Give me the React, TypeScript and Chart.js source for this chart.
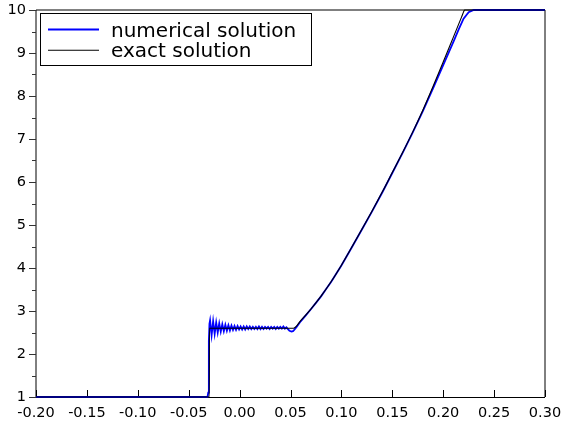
import React, { useEffect, useRef } from 'react';
import { Chart, registerables } from 'chart.js';

Chart.register(...registerables);

const seriesLabels = ['numerical solution', 'exact solution'];

const numericalX = [
  -0.2, -0.0315, -0.0308, -0.0302, -0.0296,
  -0.029, -0.0275, -0.026, -0.0245, -0.023, -0.0215, -0.02, -0.0185, -0.017, -0.0155,
  -0.014, -0.0125, -0.011, -0.0095, -0.008, -0.0065, -0.005, -0.0035, -0.002, -0.0005,
  0.001, 0.0025, 0.004, 0.0055, 0.007, 0.0085, 0.01, 0.0115, 0.013, 0.0145,
  0.016, 0.0175, 0.019, 0.0205, 0.022, 0.0235, 0.025, 0.0265, 0.028, 0.0295,
  0.031, 0.0325, 0.034, 0.0355, 0.037, 0.0385, 0.04, 0.0415, 0.043, 0.0445,
  0.046, 0.0475, 0.049, 0.051, 0.0525, 0.054, 0.056, 0.06,
  0.065, 0.07, 0.075, 0.08, 0.085, 0.09, 0.1, 0.11, 0.12, 0.13, 0.14, 0.15, 0.16, 0.17, 0.18, 0.19, 0.2,
  0.21, 0.215, 0.22, 0.225, 0.23, 0.3,
];
const numericalY = [
  1, 1, 1.1, 2.3, 2.7,
  2.78, 2.44, 2.76, 2.47, 2.73, 2.5, 2.71, 2.52, 2.69, 2.53,
  2.68, 2.54, 2.67, 2.55, 2.66, 2.56, 2.65, 2.56, 2.65, 2.57,
  2.64, 2.57, 2.64, 2.57, 2.64, 2.58, 2.64, 2.58, 2.63, 2.58,
  2.63, 2.58, 2.64, 2.58, 2.63, 2.58, 2.63, 2.59, 2.63, 2.58,
  2.63, 2.59, 2.63, 2.58, 2.63, 2.59, 2.63, 2.59, 2.64, 2.59,
  2.62, 2.58, 2.54, 2.52, 2.53, 2.57, 2.63, 2.76,
  2.9, 3.04, 3.19, 3.34, 3.51, 3.68, 4.06, 4.47, 4.89, 5.31, 5.75, 6.21, 6.67, 7.15, 7.65, 8.18, 8.72,
  9.26, 9.54, 9.8, 9.95, 10, 10,
];

const exactX = [
  -0.2, -0.0298, -0.0297, 0.053, 0.06, 0.07, 0.08, 0.09, 0.1, 0.11, 0.12, 0.13, 0.14,
  0.15, 0.16, 0.17, 0.18, 0.19, 0.2, 0.21, 0.218, 0.2205, 0.221, 0.3,
];
const exactY = [
  1, 1, 2.6, 2.6, 2.775, 3.045, 3.345, 3.685, 4.065, 4.475, 4.895, 5.32, 5.76,
  6.22, 6.68, 7.16, 7.67, 8.22, 8.79, 9.37, 9.835, 9.98, 10, 10,
];

const xTickValues = [-0.2, -0.15, -0.1, -0.05, 0, 0.05, 0.1, 0.15, 0.2, 0.25, 0.3];
const yTickValues = [1, 2, 3, 4, 5, 6, 7, 8, 9, 10];
const yMinorTickValues = [1.5, 2.5, 3.5, 4.5, 5.5, 6.5, 7.5, 8.5, 9.5];

const FONT = 'DejaVu Sans';

const framePlugin = {
  id: 'frameAndTicks',
  beforeDatasetsDraw(chart: any) {
    const { ctx, chartArea: a, scales } = chart;
    const xs = scales.x;
    const ys = scales.y;
    ctx.save();
    ctx.lineWidth = 1;
    ctx.strokeStyle = '#000';
    ctx.beginPath();
    ctx.moveTo(a.left, a.top);
    ctx.lineTo(a.right, a.top);
    ctx.lineTo(a.right, a.bottom);
    ctx.moveTo(a.left, a.top);
    ctx.lineTo(a.left, a.bottom);
    ctx.stroke();
    ctx.beginPath();
    ctx.moveTo(a.left, a.bottom + 0.5);
    ctx.lineTo(a.right, a.bottom + 0.5);
    ctx.stroke();
    ctx.strokeStyle = '#333';
    ctx.beginPath();
    yTickValues.forEach((v) => {
      const y = Math.round(ys.getPixelForValue(v)) + 0.5;
      ctx.moveTo(a.left - 7, y);
      ctx.lineTo(a.left, y);
    });
    yMinorTickValues.forEach((v) => {
      const y = Math.round(ys.getPixelForValue(v)) + 0.5;
      ctx.moveTo(a.left - 4, y);
      ctx.lineTo(a.left, y);
    });
    ctx.stroke();
    ctx.strokeStyle = '#000';
    ctx.beginPath();
    xTickValues.forEach((v) => {
      const x = Math.round(xs.getPixelForValue(v)) + 0.5;
      ctx.moveTo(x, a.bottom);
      ctx.lineTo(x, a.bottom - 7);
    });
    ctx.stroke();
    ctx.restore();
  },
  afterDraw(chart: any) {
    const { ctx, chartArea: a } = chart;
    const ds = chart.data.datasets;
    const items = seriesLabels.map((lab) => ds.find((d: any) => d.label === lab));
    ctx.save();
    const bx = a.left + 4.5;
    const by = a.top + 3.5;
    const bw = 271;
    const bh = 52;
    ctx.fillStyle = '#fff';
    ctx.fillRect(bx, by, bw, bh);
    ctx.strokeStyle = '#000';
    ctx.lineWidth = 1;
    ctx.strokeRect(bx, by, bw, bh);
    ctx.font = `20px "${FONT}"`;
    ctx.textBaseline = 'alphabetic';
    ctx.textAlign = 'left';
    items.forEach((d: any, i: number) => {
      if (!d) return;
      const ly = by + 16 + i * 20.7;
      ctx.strokeStyle = d.borderColor;
      ctx.lineWidth = d.borderWidth;
      ctx.beginPath();
      ctx.moveTo(a.left + 12, ly);
      ctx.lineTo(a.left + 63, ly);
      ctx.stroke();
      ctx.fillStyle = '#000';
      ctx.fillText(d.label, a.left + 75, ly + 7);
    });
    ctx.restore();
  },
};

export default function App() {
  const ref = useRef<HTMLCanvasElement | null>(null);
  useEffect(() => {
    document.body.style.margin = '0';
    const canvas = ref.current;
    if (!canvas) return;
    const toPts = (xs: number[], ys: number[]) => xs.map((x, i) => ({ x, y: ys[i] }));
    const chart = new Chart(canvas, {
      type: 'line',
      data: {
        datasets: [
          {
            label: seriesLabels[1],
            data: toPts(exactX, exactY),
            borderColor: '#000000',
            borderWidth: 1.1,
            pointRadius: 0,
            cubicInterpolationMode: 'monotone',
            fill: false,
          },
          {
            label: seriesLabels[0],
            data: toPts(numericalX, numericalY),
            borderColor: '#0000ff',
            borderWidth: 1.8,
            pointRadius: 0,
            tension: 0,
            fill: false,
          },
        ],
      },
      options: {
        responsive: false,
        animation: false,
        clip: false as any,
        layout: { padding: { left: 0, right: 20, top: 10, bottom: 0 } },
        plugins: { legend: { display: false }, tooltip: { enabled: false } },
        scales: {
          x: {
            type: 'linear',
            min: -0.2,
            max: 0.3,
            grid: { display: false, drawTicks: false },
            border: { display: false },
            afterBuildTicks: (s: any) => {
              s.ticks = xTickValues.map((v) => ({ value: v }));
            },
            afterFit: (s: any) => {
              s.height = 29;
              s.paddingLeft = 0;
              s.paddingRight = 0;
            },
            ticks: {
              autoSkip: false,
              maxRotation: 0,
              padding: 8,
              color: '#000',
              font: { family: FONT, size: 14.5 },
              callback: (v: any) => (Math.abs(Number(v)) < 1e-9 ? '0.00' : Number(v).toFixed(2)),
            },
          },
          y: {
            type: 'linear',
            min: 1,
            max: 10,
            grid: { display: false, drawTicks: false },
            border: { display: false },
            afterBuildTicks: (s: any) => {
              s.ticks = yTickValues.map((v) => ({ value: v }));
            },
            afterFit: (s: any) => {
              s.width = 36;
              s.paddingTop = 0;
              s.paddingBottom = 0;
            },
            ticks: {
              autoSkip: false,
              padding: 10,
              color: '#000',
              font: { family: FONT, size: 14.5 },
              callback: (v: any) => String(v),
            },
          },
        },
      },
      plugins: [framePlugin],
    });
    return () => chart.destroy();
  }, []);
  return (
    <canvas
      ref={ref}
      width={565}
      height={426}
      style={{ display: 'block', width: 565, height: 426 }}
    />
  );
}
